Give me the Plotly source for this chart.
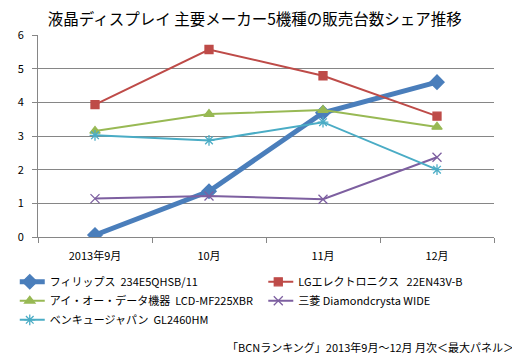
import plotly.graph_objects as go

months = ["2013年9月", "10月", "11月", "12月"]
philips = [0.06, 1.36, 3.69, 4.60]
lg = [3.93, 5.57, 4.79, 3.59]
iodata = [3.15, 3.65, 3.77, 3.27]
mitsubishi = [1.14, 1.22, 1.12, 2.37]
benq = [3.02, 2.87, 3.41, 2.00]

names = ["フィリップス  234E5QHSB/11", "LGエレクトロニクス   22EN43V-B",
         "アイ・オー・データ機器  LCD-MF225XBR", "三菱 Diamondcrysta WIDE",
         "ベンキュージャパン  GL2460HM"]
series = [philips, lg, iodata, mitsubishi, benq]
colors = ["#4A7EBB", "#BE4B48", "#98B954", "#7D5FA0", "#4AACC5"]
symbols = ["diamond", "square", "triangle-up", "x-thin", "asterisk"]
widths = [5, 2, 2, 2, 2]
msizes = [11, 8, 9, 9, 9]
legends = ["legend", "legend2", "legend", "legend2", "legend"]

font = "Noto Sans CJK JP"
fig = go.Figure()
for n, s, c, sym, w, ms, lgd in zip(names, series, colors, symbols, widths, msizes, legends):
    fig.add_trace(go.Scatter(
        x=months, y=s, name=n, mode="lines+markers", legend=lgd,
        line=dict(color=c, width=w),
        marker=dict(symbol=sym, size=ms, color=c, line=dict(color=c, width=1.3)),
    ))

leg_common = dict(orientation="v", yanchor="top", xanchor="left",
                  font=dict(family=font, size=11), itemwidth=30,
                  indentation=-10,
                  tracegroupgap=0, bgcolor="rgba(0,0,0,0)")

# page body has an 8px default margin, so the figure is sized to the visible area
fig.update_layout(
    width=512, height=348,
    margin=dict(l=19, r=26, t=27, b=119),
    paper_bgcolor="white", plot_bgcolor="white",
    font=dict(family=font, size=11, color="black"),
    title=dict(text="液晶ディスプレイ 主要メーカー5機種の販売台数シェア推移",
               x=0.482, xanchor="center", y=0.968, yanchor="middle",
               font=dict(family=font, size=15.5, color="black")),
    showlegend=True,
    legend=dict(x=-0.040, y=-0.15, **leg_common),
    legend2=dict(x=0.505, y=-0.15, **leg_common),
    xaxis=dict(showline=True, linecolor="#868686", linewidth=1,
               range=[-0.5, 3.5], automargin=False,
               ticks="outside", ticklen=5, tickcolor="#868686",
               tickson="boundaries", showgrid=False, ticklabelstandoff=9,
               tickfont=dict(family=font, size=11)),
    yaxis=dict(range=[0, 6], dtick=1, showline=True, linecolor="#868686",
               ticks="outside", ticklen=5, tickcolor="#868686",
               showgrid=True, gridcolor="#868686", gridwidth=1,
               ticklabelstandoff=6, automargin=False,
               zeroline=False, tickfont=dict(family=font, size=11)),
)
fig.add_annotation(text="「BCNランキング」2013年9月～12月 月次＜最大パネル＞",
                   xref="paper", yref="paper", x=1.049, y=-0.547,
                   xanchor="right", yanchor="middle", showarrow=False,
                   font=dict(family=font, size=11))
fig.write_html("out.html")
